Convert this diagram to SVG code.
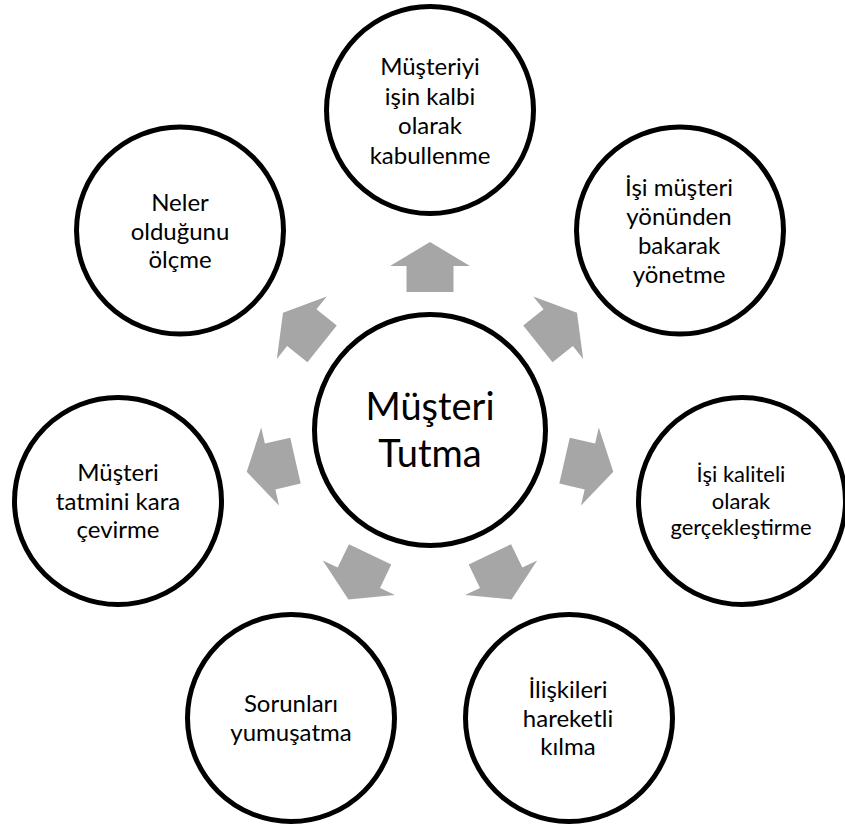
<svg xmlns="http://www.w3.org/2000/svg" width="845" height="830" viewBox="0 0 845 830">
<style>
.node circle{fill:#fff;stroke:#000;stroke-width:5}
.lbl{font-family:Lato,"Liberation Sans",sans-serif;font-size:24px;text-anchor:middle;fill:#000}
.sm{font-size:22px}
.big{font-size:38px}
.arrow{fill:#a6a6a6}
</style>
<defs>
<path id="arr" d="M430,242 L470,266 L453.5,266 L453.5,292 L406.5,292 L406.5,266 L390,266 Z"/>
</defs>
<rect width="845" height="830" fill="#fff"/>
<g id="connectors" class="arrow">
<use href="#arr"/>
<use href="#arr" transform="rotate(51.4286 430 430)"/>
<use href="#arr" transform="rotate(102.8571 430 430)"/>
<use href="#arr" transform="rotate(154.2857 430 430)"/>
<use href="#arr" transform="rotate(205.7143 430 430)"/>
<use href="#arr" transform="rotate(257.1429 430 430)"/>
<use href="#arr" transform="rotate(308.5714 430 430)"/>
</g>
<g id="center" class="node">
<circle cx="430" cy="430" r="115.5"/>
<text class="lbl big" x="430" y="420">Müşteri</text>
<text class="lbl big" x="430" y="466.5">Tutma</text>
</g>
<g id="n0" class="node">
<circle cx="430" cy="110" r="103.5"/>
<text class="lbl" x="430" y="75">Müşteriyi</text>
<text class="lbl" x="430" y="104.5">işin kalbi</text>
<text class="lbl" x="430" y="134">olarak</text>
<text class="lbl" x="430" y="163.5">kabullenme</text>
</g>
<g id="n1" class="node">
<circle cx="680" cy="230.5" r="103.5"/>
<text class="lbl" x="679" y="196">İşi müşteri</text>
<text class="lbl" x="679" y="225">yönünden</text>
<text class="lbl" x="679" y="254">bakarak</text>
<text class="lbl" x="679" y="283">yönetme</text>
</g>
<g id="n2" class="node">
<circle cx="742" cy="501" r="103.5"/>
<text class="lbl sm" x="741" y="482">İşi kaliteli</text>
<text class="lbl sm" x="741" y="508.5">olarak</text>
<text class="lbl sm" x="741" y="535">gerçekleştirme</text>
</g>
<g id="n3" class="node">
<circle cx="569" cy="718" r="103.5"/>
<text class="lbl" x="568" y="698">İlişkileri</text>
<text class="lbl" x="568" y="726.5">hareketli</text>
<text class="lbl" x="568" y="755">kılma</text>
</g>
<g id="n4" class="node">
<circle cx="291" cy="718" r="103.5"/>
<text class="lbl" x="291" y="712">Sorunları</text>
<text class="lbl" x="291" y="740.5">yumuşatma</text>
</g>
<g id="n5" class="node">
<circle cx="118" cy="501" r="103.5"/>
<text class="lbl" x="118" y="481">Müşteri</text>
<text class="lbl" x="118" y="509.5">tatmini kara</text>
<text class="lbl" x="118" y="538">çevirme</text>
</g>
<g id="n6" class="node">
<circle cx="180" cy="230.5" r="103.5"/>
<text class="lbl" x="180" y="211">Neler</text>
<text class="lbl" x="180" y="239.5">olduğunu</text>
<text class="lbl" x="180" y="268">ölçme</text>
</g>
</svg>
